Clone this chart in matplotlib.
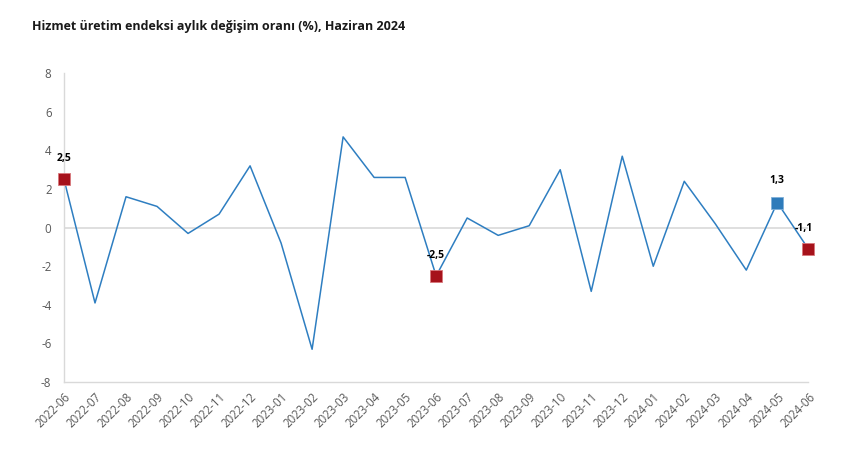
import matplotlib
matplotlib.use('Agg')
import matplotlib.pyplot as plt

months = ['2022-06', '2022-07', '2022-08', '2022-09', '2022-10', '2022-11', '2022-12',
          '2023-01', '2023-02', '2023-03', '2023-04', '2023-05', '2023-06', '2023-07',
          '2023-08', '2023-09', '2023-10', '2023-11', '2023-12', '2024-01', '2024-02',
          '2024-03', '2024-04', '2024-05', '2024-06']
values = [2.5, -3.9, 1.6, 1.1, -0.3, 0.7, 3.2,
          -0.8, -6.3, 4.7, 2.6, 2.6, -2.5, 0.5,
          -0.4, 0.1, 3.0, -3.3, 3.7, -2.0, 2.4,
          0.2, -2.2, 1.3, -1.1]

red_idx = [0, 12, 24]
blue_idx = [23]
yticks = [-8, -6, -4, -2, 0, 2, 4, 6, 8]

plt.rcParams['font.family'] = ['Open Sans', 'DejaVu Sans']

fig = plt.figure(figsize=(8.42, 4.49), dpi=100)
ax = fig.add_axes([0.076, 0.149, 0.884, 0.688])

x = list(range(len(months)))
ax.plot(x, values, color='#2E7EC1', lw=1.1, zorder=2)

ax.axhline(0, color='#D9D9D9', lw=1.2, zorder=1)

for i in red_idx:
    ax.plot(i, values[i], 's', ms=9, color='#A6121B', mec='#D9787C', mew=0.6,
            zorder=3, clip_on=False)
for i in blue_idx:
    ax.plot(i, values[i], 's', ms=9, color='#2E7BBA', mec='#7FB0D9', mew=0.6,
            zorder=3, clip_on=False)

# label offsets in points
labels = {0: (0, 11), 12: (0, 11), 23: (0, 12), 24: (-3, 11)}
for i, (dx, dy) in labels.items():
    ax.annotate(f'{values[i]:.1f}'.replace('.', ','), (i, values[i]),
                xytext=(dx, dy), textcoords='offset points', ha='center', va='bottom',
                fontsize=7.5, fontweight='bold', color='black')

for s in ['top', 'right']:
    ax.spines[s].set_visible(False)
for s in ['left', 'bottom']:
    ax.spines[s].set_color('#D9D9D9')
    ax.spines[s].set_linewidth(1.0)

ax.set_xlim(0, 24)
ax.set_ylim(-8, 8)
ax.set_xticks(x)
ax.set_xticklabels(months, rotation=45, ha='right', rotation_mode='anchor',
                   fontsize=8.3, color='#595959')
ax.set_yticks(yticks)
ax.set_yticklabels([str(v) for v in yticks], fontsize=8.3, color='#595959')
ax.tick_params(axis='y', length=0, pad=9)
ax.tick_params(axis='x', length=0, pad=6)

fig.text(0.038, 0.94, 'Hizmet üretim endeksi aylık değişim oranı (%), Haziran 2024',
         fontsize=9, fontweight='bold', color='#1a1a1a', va='center')

fig.savefig('out.png', dpi=100)
